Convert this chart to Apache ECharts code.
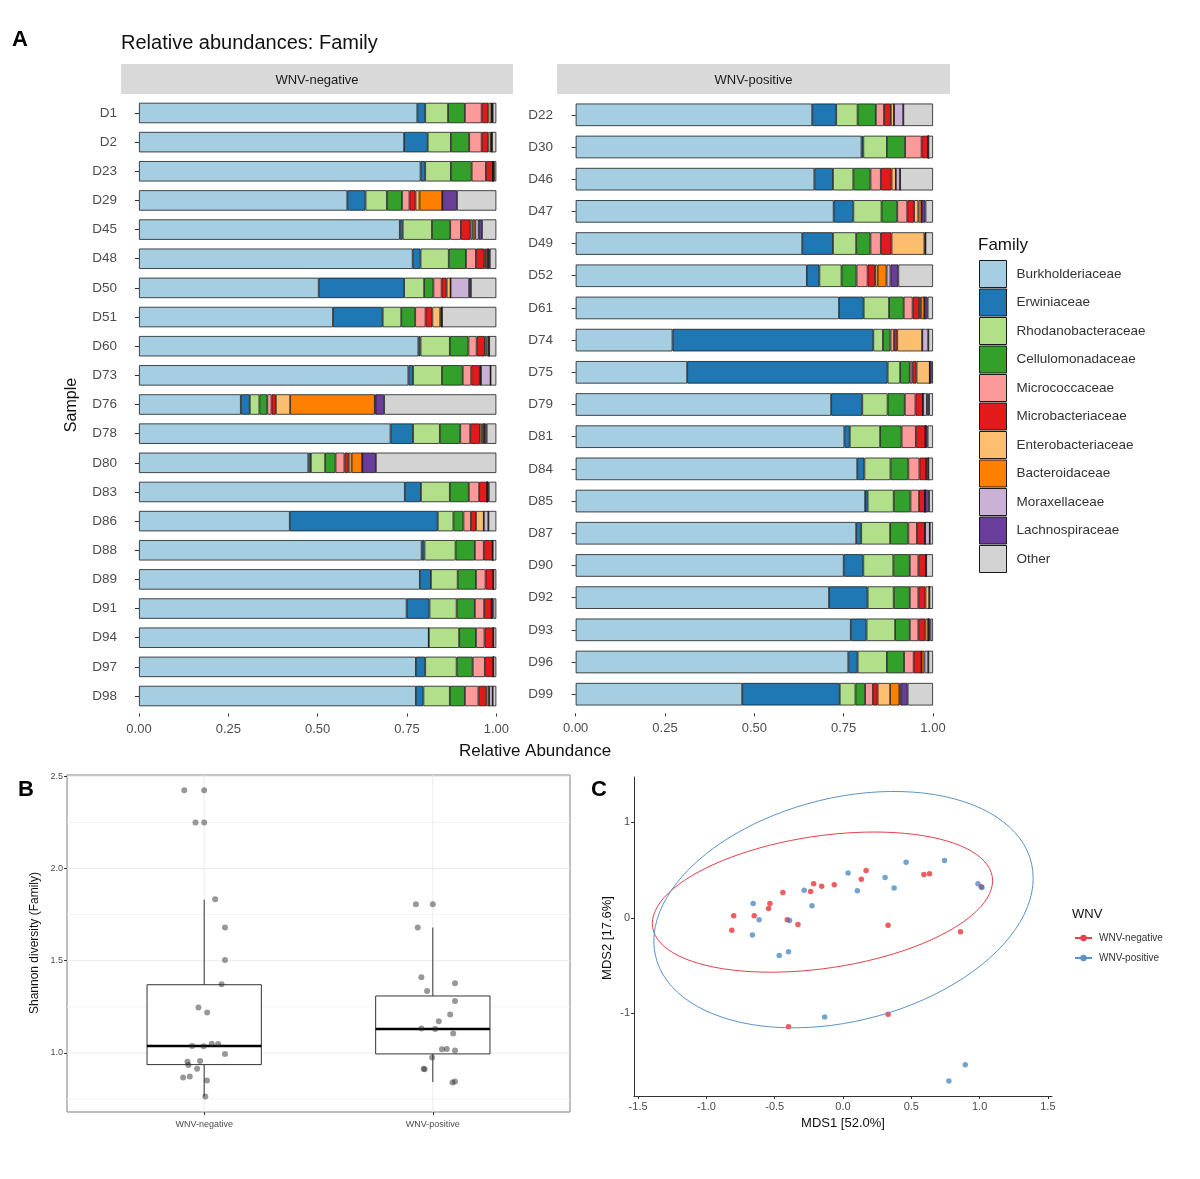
<!DOCTYPE html>
<html>
<head>
<meta charset="utf-8">
<script src="https://cdn.jsdelivr.net/npm/echarts@6.0.0/dist/echarts.min.js"></script>
<style>
html, body { margin: 0; padding: 0; background: #fff; }
#chart { width: 1200px; height: 1179px; }
</style>
</head>
<body>
<div id="chart"></div>
<script>
const FONT = "'Liberation Sans', Arial, sans-serif"
const TICK_COLOR = '#4d4d4d'

// ---- Panel A: relative abundances ----
const families = [
  'Burkholderiaceae', 'Erwiniaceae', 'Rhodanobacteraceae', 'Cellulomonadaceae',
  'Micrococcaceae', 'Microbacteriaceae', 'Enterobacteriaceae', 'Bacteroidaceae',
  'Moraxellaceae', 'Lachnospiraceae', 'Other',
]
const familyColors = [
  '#A6CEE3', '#1F78B4', '#B2DF8A', '#33A02C', '#FB9A99', '#E31A1C',
  '#FDBF6F', '#FF7F00', '#CAB2D6', '#6A3D9A', '#D3D3D3',
]
const negSamples = ['D1', 'D2', 'D23', 'D29', 'D45', 'D48', 'D50', 'D51', 'D60', 'D73', 'D76',
  'D78', 'D80', 'D83', 'D86', 'D88', 'D89', 'D91', 'D94', 'D97', 'D98']
const posSamples = ['D22', 'D30', 'D46', 'D47', 'D49', 'D52', 'D61', 'D74', 'D75', 'D79',
  'D81', 'D84', 'D85', 'D87', 'D90', 'D92', 'D93', 'D96', 'D99']

// one row per sample, columns in the order of `families`
const negAbundance = [
  [0.779, 0.022, 0.064, 0.047, 0.047, 0.019, 0.008, 0.002, 0, 0.002, 0.010],
  [0.742, 0.066, 0.065, 0.051, 0.035, 0.019, 0.007, 0.003, 0, 0, 0.012],
  [0.788, 0.013, 0.072, 0.058, 0.040, 0.020, 0, 0, 0, 0.003, 0.006],
  [0.583, 0.051, 0.060, 0.042, 0.021, 0.017, 0.011, 0.064, 0, 0.041, 0.110],
  [0.730, 0.008, 0.082, 0.051, 0.030, 0.027, 0.006, 0.007, 0.010, 0.009, 0.040],
  [0.766, 0.022, 0.079, 0.048, 0.028, 0.023, 0.005, 0.006, 0, 0.005, 0.018],
  [0.503, 0.239, 0.056, 0.026, 0.023, 0.014, 0.011, 0, 0.052, 0.005, 0.071],
  [0.543, 0.139, 0.052, 0.039, 0.029, 0.019, 0.022, 0.005, 0, 0, 0.152],
  [0.782, 0.006, 0.082, 0.052, 0.023, 0.023, 0.005, 0.007, 0, 0, 0.020],
  [0.754, 0.013, 0.081, 0.058, 0.024, 0.024, 0.003, 0, 0.027, 0, 0.016],
  [0.285, 0.025, 0.027, 0.022, 0.012, 0.012, 0.040, 0.237, 0.002, 0.024, 0.314],
  [0.704, 0.063, 0.075, 0.057, 0.028, 0.027, 0.006, 0.006, 0, 0.007, 0.027],
  [0.474, 0.007, 0.040, 0.029, 0.025, 0.012, 0.008, 0.030, 0, 0.038, 0.337],
  [0.744, 0.045, 0.081, 0.053, 0.029, 0.023, 0, 0, 0, 0.004, 0.021],
  [0.422, 0.414, 0.044, 0.028, 0.021, 0.014, 0.022, 0, 0.013, 0, 0.022],
  [0.791, 0.008, 0.087, 0.054, 0.025, 0.025, 0, 0, 0, 0, 0.010],
  [0.786, 0.031, 0.075, 0.051, 0.027, 0.022, 0, 0, 0, 0, 0.008],
  [0.749, 0.064, 0.076, 0.051, 0.026, 0.021, 0, 0, 0, 0.005, 0.008],
  [0.811, 0, 0.085, 0.047, 0.024, 0.025, 0, 0, 0, 0, 0.008],
  [0.775, 0.026, 0.088, 0.045, 0.034, 0.024, 0, 0, 0, 0, 0.008],
  [0.775, 0.021, 0.074, 0.042, 0.038, 0.023, 0.007, 0, 0.010, 0, 0.010],
]
const posAbundance = [
  [0.662, 0.067, 0.060, 0.051, 0.023, 0.019, 0.009, 0, 0.026, 0, 0.083],
  [0.800, 0.005, 0.066, 0.051, 0.046, 0.019, 0, 0, 0, 0, 0.013],
  [0.668, 0.052, 0.057, 0.048, 0.029, 0.030, 0.012, 0, 0.012, 0, 0.092],
  [0.722, 0.055, 0.079, 0.044, 0.028, 0.019, 0.012, 0.009, 0, 0.011, 0.021],
  [0.634, 0.086, 0.065, 0.040, 0.029, 0.030, 0.092, 0.003, 0, 0, 0.021],
  [0.647, 0.035, 0.062, 0.042, 0.031, 0.021, 0.007, 0.025, 0.011, 0.022, 0.097],
  [0.737, 0.069, 0.071, 0.041, 0.025, 0.018, 0.005, 0.010, 0, 0.009, 0.015],
  [0.271, 0.562, 0.027, 0.021, 0.010, 0.009, 0.070, 0, 0.017, 0, 0.013],
  [0.312, 0.561, 0.035, 0.027, 0.007, 0.012, 0.037, 0, 0, 0.005, 0.004],
  [0.715, 0.087, 0.071, 0.048, 0.030, 0.021, 0, 0, 0.011, 0.006, 0.011],
  [0.752, 0.015, 0.085, 0.060, 0.040, 0.027, 0, 0, 0, 0.006, 0.015],
  [0.788, 0.020, 0.073, 0.050, 0.031, 0.019, 0, 0.006, 0, 0, 0.013],
  [0.810, 0.007, 0.073, 0.047, 0.024, 0.017, 0, 0, 0, 0.011, 0.011],
  [0.785, 0.014, 0.081, 0.051, 0.024, 0.023, 0, 0, 0.013, 0, 0.009],
  [0.750, 0.055, 0.084, 0.046, 0.024, 0.022, 0, 0, 0, 0, 0.019],
  [0.709, 0.108, 0.073, 0.045, 0.024, 0.020, 0.011, 0, 0, 0, 0.010],
  [0.770, 0.044, 0.080, 0.041, 0.024, 0.020, 0.008, 0, 0, 0.006, 0.007],
  [0.763, 0.026, 0.082, 0.048, 0.027, 0.022, 0, 0.008, 0.011, 0, 0.013],
  [0.466, 0.273, 0.044, 0.027, 0.022, 0.013, 0.035, 0.026, 0.003, 0.020, 0.071],
]

// ---- Panel B: Shannon diversity ----
const shannonGroups = ['WNV-negative', 'WNV-positive']
const shannonBoxNeg = [0.764, 0.937, 1.038, 1.370, 1.831]
const shannonBoxPos = [0.842, 0.995, 1.130, 1.309, 1.680]
const shannonNegX = [0.913, 1.000, 0.962, 1.000, 1.048, 1.091, 1.091, 1.076, 0.975, 1.013, 0.947, 0.998,
  1.033, 1.061, 1.091, 0.927, 0.982, 0.931, 0.969, 0.908, 0.937, 1.012, 1.005]
const shannonNegY = [2.424, 2.424, 2.250, 2.250, 1.833, 1.680, 1.504, 1.373, 1.246, 1.219, 1.038, 1.036,
  1.050, 1.049, 0.995, 0.953, 0.957, 0.935, 0.914, 0.867, 0.872, 0.851, 0.764]
const shannonPosX = [1.926, 2.000, 1.934, 1.950, 1.975, 2.097, 2.097, 2.076, 2.026, 1.950, 2.010, 2.089,
  2.040, 2.061, 2.097, 1.997, 1.960, 1.964, 2.086, 2.097]
const shannonPosY = [1.806, 1.806, 1.680, 1.410, 1.336, 1.378, 1.282, 1.208, 1.172, 1.133, 1.130, 1.106,
  1.020, 1.022, 1.013, 0.975, 0.914, 0.912, 0.840, 0.845]
const shannonTicks = [1.0, 1.5, 2.0, 2.5]
const shannonMinorTicks = [0.75, 1.25, 1.75, 2.25]

// ---- Panel C: MDS ordination ----
const mdsNegX = [-0.814, -0.800, -0.650, -0.545, -0.535, -0.440, -0.408, -0.330, -0.399, -0.237, -0.215,
  -0.156, -0.064, 0.134, 0.169, 0.330, 0.330, 0.592, 0.633, 0.860, 1.012]
const mdsNegY = [-0.129, 0.021, 0.021, 0.098, 0.150, 0.265, -0.021, -0.070, -1.141, 0.276, 0.356,
  0.332, 0.346, 0.405, 0.496, -0.077, -1.009, 0.454, 0.461, -0.147, 0.325]
const mdsPosX = [-0.658, -0.614, -0.663, -0.467, -0.399, -0.391, -0.284, -0.227, -0.134, 0.037, 0.105,
  0.308, 0.374, 0.462, 0.743, 0.988, 1.017, 0.895, 0.775]
const mdsPosY = [0.150, -0.021, -0.181, -0.394, -0.356, -0.028, 0.290, 0.126, -1.040, 0.471, 0.283,
  0.422, 0.314, 0.583, 0.600, 0.356, 0.318, -1.539, -1.710]
const mdsXTicks = [-1.5, -1.0, -0.5, 0.0, 0.5, 1.0, 1.5]
const mdsYTicks = [-1, 0, 1]

// robust t-based covariance (like MASS::cov.trob), used for the 95% ellipses
function covTrob(xs, ys) {
  const n = xs.length
  const nu = 5
  const p = 2
  let w = xs.map(() => 1)
  let lx = xs.reduce((a, b) => a + b, 0) / n
  let ly = ys.reduce((a, b) => a + b, 0) / n
  let dx = []
  let dy = []
  for (let iter = 0; iter < 25; iter++) {
    const w0 = w.slice()
    dx = xs.map(v => v - lx)
    dy = ys.map(v => v - ly)
    const sw = w.reduce((a, b) => a + b, 0)
    let a = 0, b = 0, c = 0
    for (let i = 0; i < n; i++) {
      a += w[i] / sw * dx[i] * dx[i]
      b += w[i] / sw * dx[i] * dy[i]
      c += w[i] / sw * dy[i] * dy[i]
    }
    const det = a * c - b * b
    w = dx.map((x, i) => {
      const q = (c * x * x - 2 * b * x * dy[i] + a * dy[i] * dy[i]) / det
      return (nu + p) / (nu + q)
    })
    const sw2 = w.reduce((s, v) => s + v, 0)
    lx = xs.reduce((s, v, i) => s + w[i] * v, 0) / sw2
    ly = ys.reduce((s, v, i) => s + w[i] * v, 0) / sw2
    if (w.every((v, i) => Math.abs(v - w0[i]) < 0.01)) break
  }
  let s11 = 0, s12 = 0, s22 = 0
  for (let i = 0; i < n; i++) {
    s11 += w[i] * dx[i] * dx[i]
    s12 += w[i] * dx[i] * dy[i]
    s22 += w[i] * dy[i] * dy[i]
  }
  return { center: [lx, ly], cov: [s11 / n, s12 / n, s22 / n] }
}

function ellipsePath(xs, ys, level) {
  const { center, cov } = covTrob(xs, ys)
  const d = xs.length - 1
  const fq = (d / 2) * (Math.pow(1 - level, -2 / d) - 1)
  const radius = Math.sqrt(2 * fq)
  const r11 = Math.sqrt(cov[0])
  const r12 = cov[1] / r11
  const r22 = Math.sqrt(cov[2] - r12 * r12)
  const pts = []
  for (let k = 0; k <= 100; k++) {
    const t = k * 2 * Math.PI / 100
    const u = Math.cos(t), v = Math.sin(t)
    pts.push([center[0] + radius * u * r11, center[1] + radius * (u * r12 + v * r22)])
  }
  return pts
}

const chart = echarts.init(document.getElementById('chart'))

function barSeries(rows, stack, axisIndex) {
  return families.map((name, j) => ({
    name,
    type: 'bar',
    stack,
    xAxisIndex: axisIndex,
    yAxisIndex: axisIndex,
    barWidth: '70%',
    data: rows.map(r => r[j]),
    itemStyle: { color: familyColors[j], borderColor: '#1a1a1a', borderWidth: 0.8 },
    emphasis: { disabled: true },
  }))
}

function abundanceXAxis(gridIndex) {
  return {
    gridIndex, type: 'value', min: 0, max: 1, interval: 0.25, offset: 3,
    axisLine: { show: false },
    axisTick: { show: true, length: 3, lineStyle: { color: '#333' } },
    axisLabel: { formatter: v => v.toFixed(2), fontFamily: FONT, fontSize: 13, color: TICK_COLOR, margin: 9 },
    splitLine: { show: false },
  }
}

function sampleYAxis(gridIndex, samples, offset) {
  return {
    gridIndex, type: 'category', data: samples, inverse: true, offset,
    axisLine: { show: false },
    axisTick: { show: true, alignWithLabel: true, length: 4, lineStyle: { color: '#333' } },
    axisLabel: { fontFamily: FONT, fontSize: 13.5, color: TICK_COLOR, margin: 4 },
    splitLine: { show: false },
  }
}

function renderBox(params, api) {
  const x = api.value(0)
  const half = 0.25
  const lo = api.coord([x, api.value(1)])
  const q1 = api.coord([x, api.value(2)])
  const q3 = api.coord([x, api.value(4)])
  const hi = api.coord([x, api.value(5)])
  const tl = api.coord([x - half, api.value(4)])
  const br = api.coord([x + half, api.value(2)])
  const ml = api.coord([x - half, api.value(3)])
  const mr = api.coord([x + half, api.value(3)])
  return {
    type: 'group',
    children: [
      { type: 'line', shape: { x1: lo[0], y1: lo[1], x2: q1[0], y2: q1[1] }, style: { stroke: '#333', lineWidth: 1 } },
      { type: 'line', shape: { x1: q3[0], y1: q3[1], x2: hi[0], y2: hi[1] }, style: { stroke: '#333', lineWidth: 1 } },
      { type: 'rect', shape: { x: tl[0], y: tl[1], width: br[0] - tl[0], height: br[1] - tl[1] }, style: { fill: '#fff', stroke: '#333', lineWidth: 1 } },
      { type: 'line', shape: { x1: ml[0], y1: ml[1], x2: mr[0], y2: mr[1] }, style: { stroke: '#000', lineWidth: 2.6 } },
    ],
  }
}

function renderHGrid(params, api) {
  const y = api.value(1)
  const minor = api.value(2) === 1
  const a = api.coord([0.4, y])
  const b = api.coord([2.6, y])
  return { type: 'line', shape: { x1: a[0], y1: a[1], x2: b[0], y2: b[1] }, style: { stroke: minor ? '#f4f4f4' : '#ebebeb', lineWidth: 1 } }
}

function renderVGrid(params, api) {
  const x = api.value(0)
  const a = api.coord([x, 0.68])
  const b = api.coord([x, 2.507])
  return { type: 'line', shape: { x1: a[0], y1: a[1], x2: b[0], y2: b[1] }, style: { stroke: '#ebebeb', lineWidth: 1 } }
}

const text = (x, y, str, extra) => ({
  type: 'text', x, y, silent: true,
  style: Object.assign({ text: str, fontFamily: FONT, fill: '#1a1a1a' }, extra.style),
  rotation: extra.rotation || 0,
})

const option = {
  animation: false,
  backgroundColor: '#fff',
  grid: [
    { left: 139, top: 98.4, width: 357.3, height: 612.2, containLabel: false, outerBoundsMode: 'none' },
    { left: 575.7, top: 98.7, width: 357.3, height: 611.6, containLabel: false, outerBoundsMode: 'none' },
    { left: 67, top: 775, width: 503, height: 337, show: true, borderColor: '#7f7f7f', borderWidth: 1, containLabel: false, outerBoundsMode: 'none' },
    { left: 634, top: 777, width: 418, height: 319, containLabel: false, outerBoundsMode: 'none' },
  ],
  xAxis: [
    abundanceXAxis(0),
    abundanceXAxis(1),
    {
      gridIndex: 2, type: 'value', min: 0.4, max: 2.6,
      axisLine: { show: false },
      axisTick: { show: true, customValues: [1, 2], length: 3, lineStyle: { color: '#333' } },
      axisLabel: { customValues: [1, 2], formatter: v => shannonGroups[Math.round(v) - 1], fontFamily: FONT, fontSize: 9, color: TICK_COLOR, margin: 8 },
      splitLine: { show: false },
    },
    {
      gridIndex: 3, type: 'value', min: -1.53, max: 1.53,
      axisLine: { show: true, onZero: false, lineStyle: { color: '#333', width: 1 } },
      axisTick: { show: true, customValues: mdsXTicks, length: 3, lineStyle: { color: '#333' } },
      axisLabel: { customValues: mdsXTicks, formatter: v => v.toFixed(1), fontFamily: FONT, fontSize: 11, color: TICK_COLOR, margin: 5 },
      splitLine: { show: false },
    },
  ],
  yAxis: [
    sampleYAxis(0, negSamples, 18),
    sampleYAxis(1, posSamples, 18.7),
    {
      gridIndex: 2, type: 'value', min: 0.68, max: 2.507,
      axisLine: { show: false },
      axisTick: { show: true, customValues: shannonTicks, length: 3, lineStyle: { color: '#333' } },
      axisLabel: { customValues: shannonTicks, formatter: v => v.toFixed(1), fontFamily: FONT, fontSize: 9, color: TICK_COLOR, margin: 4 },
      splitLine: { show: false },
    },
    {
      gridIndex: 3, type: 'value', min: -1.867, max: 1.476,
      axisLine: { show: true, onZero: false, lineStyle: { color: '#333', width: 1 } },
      axisTick: { show: true, customValues: mdsYTicks, length: 3, lineStyle: { color: '#333' } },
      axisLabel: { customValues: mdsYTicks, formatter: v => String(v), fontFamily: FONT, fontSize: 11, color: TICK_COLOR, margin: 4 },
      splitLine: { show: false },
    },
  ],
  legend: [
    {
      data: families, orient: 'vertical', left: 979, top: 260, padding: 0,
      itemWidth: 27, itemHeight: 27, itemGap: 0.5, icon: 'rect', selectedMode: false,
      itemStyle: { borderColor: '#1a1a1a', borderWidth: 1 },
      textStyle: { fontFamily: FONT, fontSize: 13.5, color: '#333', padding: [0, 0, 0, 5] },
    },
    {
      data: ['WNV-negative', 'WNV-positive'], orient: 'vertical', left: 1074, top: 933, padding: 0,
      itemWidth: 17, itemHeight: 8, itemGap: 10, selectedMode: false,
      textStyle: { fontFamily: FONT, fontSize: 10, color: '#333', padding: [0, 0, 0, 2] },
    },
  ],
  series: [
    ...barSeries(negAbundance, 'neg', 0),
    ...barSeries(posAbundance, 'pos', 1),
    {
      type: 'custom', xAxisIndex: 2, yAxisIndex: 2, z: 1, silent: true,
      data: shannonTicks.map(v => [1.5, v, 0]).concat(shannonMinorTicks.map(v => [1.5, v, 1])),
      renderItem: renderHGrid,
    },
    {
      type: 'custom', xAxisIndex: 2, yAxisIndex: 2, z: 1, silent: true,
      data: [[1, 1.5], [2, 1.5]],
      renderItem: renderVGrid,
    },
    {
      type: 'custom', name: 'box', xAxisIndex: 2, yAxisIndex: 2, z: 2, silent: true,
      data: [[1, ...shannonBoxNeg], [2, ...shannonBoxPos]],
      encode: { x: 0, y: [1, 2, 3, 4, 5] },
      renderItem: renderBox,
    },
    {
      type: 'scatter', name: 'shannon-neg', xAxisIndex: 2, yAxisIndex: 2, z: 3, silent: true,
      symbolSize: 6, itemStyle: { color: 'rgba(40,40,40,0.6)' },
      data: shannonNegX.map((x, i) => [x, shannonNegY[i]]),
    },
    {
      type: 'scatter', name: 'shannon-pos', xAxisIndex: 2, yAxisIndex: 2, z: 3, silent: true,
      symbolSize: 6, itemStyle: { color: 'rgba(40,40,40,0.6)' },
      data: shannonPosX.map((x, i) => [x, shannonPosY[i]]),
    },
    {
      type: 'line', name: 'WNV-negative', xAxisIndex: 3, yAxisIndex: 3, z: 4, silent: true,
      symbol: 'circle', symbolSize: 5, showSymbol: false,
      lineStyle: { color: '#E4414A', width: 1 }, itemStyle: { color: '#E4414A' },
      data: ellipsePath(mdsNegX, mdsNegY, 0.95),
    },
    {
      type: 'line', name: 'WNV-positive', xAxisIndex: 3, yAxisIndex: 3, z: 4, silent: true,
      symbol: 'circle', symbolSize: 5, showSymbol: false,
      lineStyle: { color: '#5B93C7', width: 1 }, itemStyle: { color: '#5B93C7' },
      data: ellipsePath(mdsPosX, mdsPosY, 0.95),
    },
    {
      type: 'scatter', name: 'WNV-negative', xAxisIndex: 3, yAxisIndex: 3, z: 3, silent: true,
      symbolSize: 5.5, itemStyle: { color: '#E41A1C', opacity: 0.7 },
      data: mdsNegX.map((x, i) => [x, mdsNegY[i]]),
    },
    {
      type: 'scatter', name: 'WNV-positive', xAxisIndex: 3, yAxisIndex: 3, z: 3, silent: true,
      symbolSize: 5.5, itemStyle: { color: '#377EB8', opacity: 0.7 },
      data: mdsPosX.map((x, i) => [x, mdsPosY[i]]),
    },
  ],
  graphic: [
    text(12, 29, 'A', { style: { fontSize: 22, fontWeight: 'bold', fill: '#000' } }),
    text(121, 33, 'Relative abundances: Family', { style: { fontSize: 20, fill: '#111' } }),
    { type: 'rect', silent: true, shape: { x: 121, y: 64, width: 392, height: 30 }, style: { fill: '#d9d9d9' } },
    { type: 'rect', silent: true, shape: { x: 557, y: 64, width: 393, height: 30 }, style: { fill: '#d9d9d9' } },
    text(317, 80, 'WNV-negative', { style: { fontSize: 13, fill: '#1a1a1a', textAlign: 'center', textVerticalAlign: 'middle' } }),
    text(753.5, 80, 'WNV-positive', { style: { fontSize: 13, fill: '#1a1a1a', textAlign: 'center', textVerticalAlign: 'middle' } }),
    text(535, 751, 'Relative Abundance', { style: { fontSize: 17, fill: '#111', textAlign: 'center', textVerticalAlign: 'middle' } }),
    text(72, 405, 'Sample', { rotation: Math.PI / 2, style: { fontSize: 16, fill: '#111', textAlign: 'center', textVerticalAlign: 'middle' } }),
    text(978, 237, 'Family', { style: { fontSize: 17, fill: '#111' } }),
    text(18, 779, 'B', { style: { fontSize: 22, fontWeight: 'bold', fill: '#000' } }),
    text(35, 943, 'Shannon diversity (Family)', { rotation: Math.PI / 2, style: { fontSize: 12, fill: '#111', textAlign: 'center', textVerticalAlign: 'middle' } }),
    text(591, 779, 'C', { style: { fontSize: 22, fontWeight: 'bold', fill: '#000' } }),
    text(843, 1123, 'MDS1 [52.0%]', { style: { fontSize: 13, fill: '#111', textAlign: 'center', textVerticalAlign: 'middle' } }),
    text(607, 938, 'MDS2 [17.6%]', { rotation: Math.PI / 2, style: { fontSize: 13, fill: '#111', textAlign: 'center', textVerticalAlign: 'middle' } }),
    text(1072, 908, 'WNV', { style: { fontSize: 13, fill: '#111' } }),
  ],
}

chart.setOption(option)
</script>
</body>
</html>
